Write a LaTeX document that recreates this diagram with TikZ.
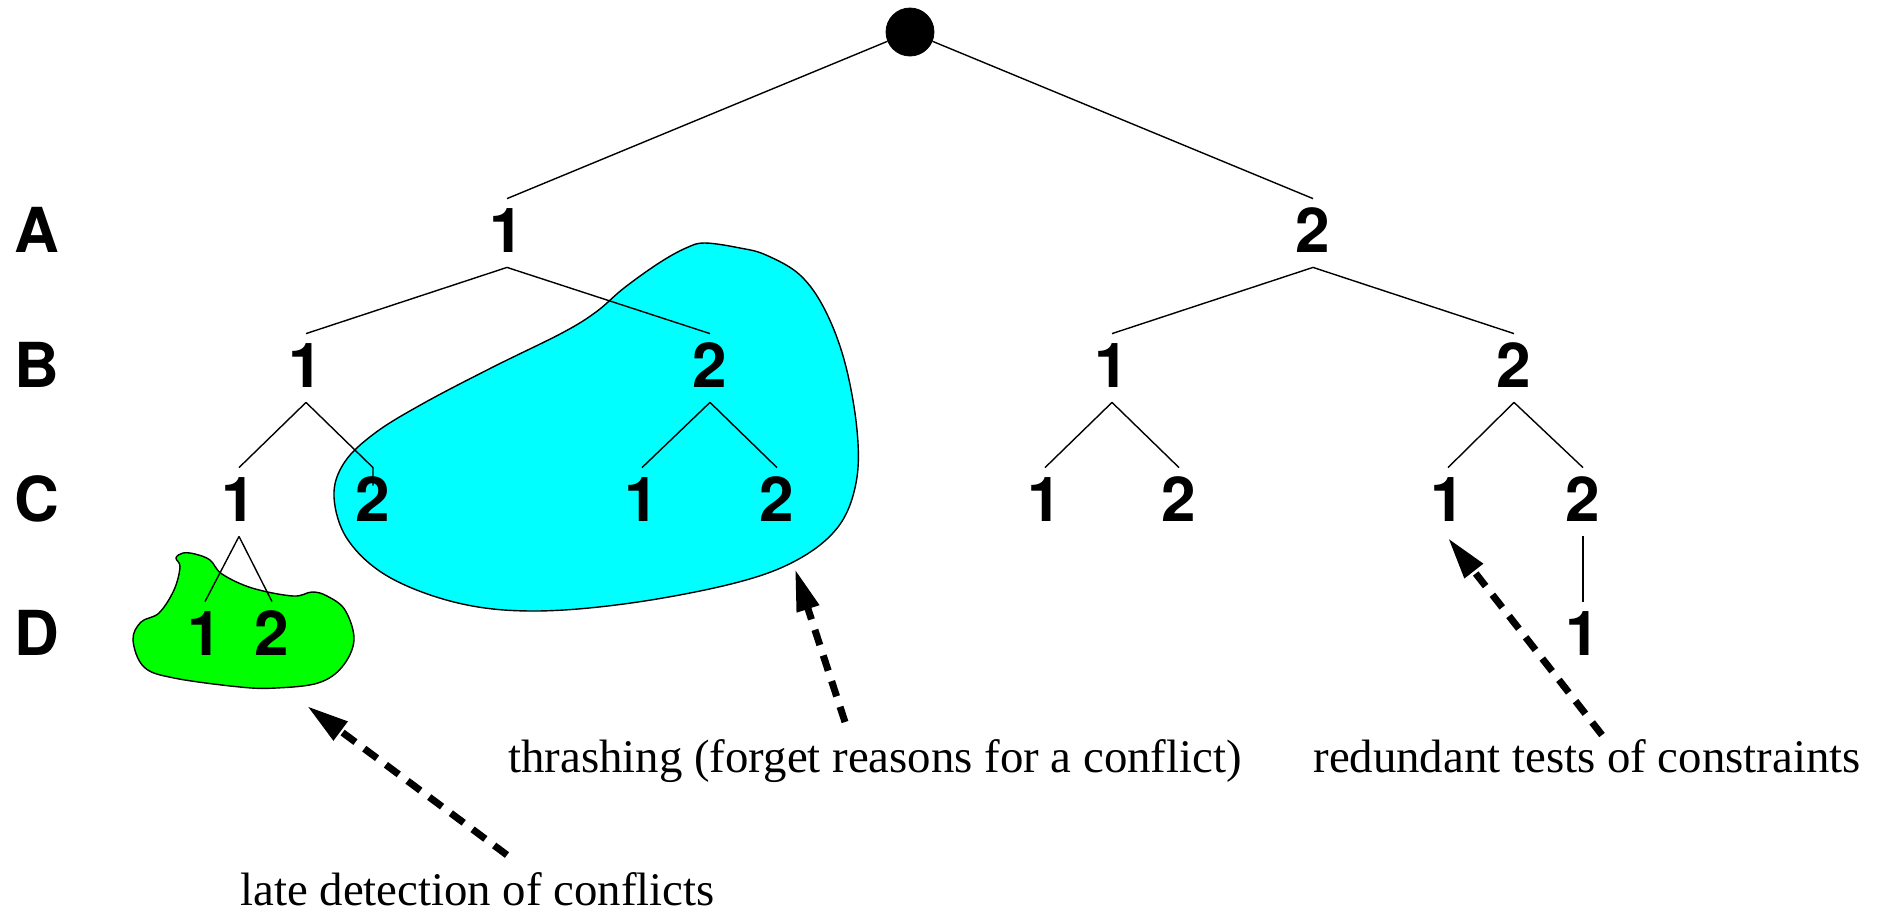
\documentclass[tikz,border=0pt]{standalone}
\usepackage{fontspec}
\setmainfont{Liberation Serif}
\newfontfamily\heros{TeX Gyre Heros}
\usetikzlibrary{arrows.meta}
\definecolor{blobcyan}{RGB}{0,255,255}
\definecolor{blobgreen}{RGB}{0,255,0}
\tikzset{
  digit/.style={font=\heros\bfseries\fontsize{31}{31}\selectfont, inner sep=0pt,
                text height=26.5pt, text depth=7.5pt, anchor=base},
  rowlabel/.style={font=\heros\bfseries\fontsize{31}{31}\selectfont, inner sep=0pt, anchor=base},
  dot/.style={circle, fill=black, draw=black, minimum size=24pt, inner sep=0pt},
  treeline/.style={draw=black, line width=0.7pt},
  blob/.style={draw=black, line width=0.7pt},
  note/.style={font=\fontsize{23.4}{27}\selectfont, inner sep=0pt, anchor=base west},
  callout/.style={draw=black, line width=3.5pt, dash pattern=on 8pt off 5.5pt,
                  -{Triangle[length=21pt,width=11pt]}}
}
\begin{document}
\begin{tikzpicture}[x=0.5pt, y=-0.5pt]
\useasboundingbox (0,0) rectangle (1879,912);
% background regions
\filldraw[blob, fill=blobcyan] plot[smooth cycle, tension=0.6] coordinates {
  (705,243) (740,248) (766,255) (800,275) (825,310) (845,363) (857,430) (856,483)
  (838,527) (797,560) (735,583) (631,603) (534,611) (458,603) (389,577) (348,540)
  (334,497) (344,463) (375,433) (424,403) (493,367) (562,333) (596,312) (624,288)
  (659,263) (686,248)};
\filldraw[blob, fill=blobgreen] plot[smooth cycle, tension=0.6] coordinates {
  (183,553) (195,554) (210,560) (222,574) (252,588) (293,596) (312,592) (327,596)
  (345,610) (354,640) (342,667) (318,683) (276,688) (240,687) (174,678) (144,667)
  (133,640) (141,622) (159,613) (174,590) (180,567) (176,558)};
% row labels
\node[rowlabel] (lA) at (37,252) {A};
\node[rowlabel] (lB) at (37,387) {B};
\node[rowlabel] (lC) at (37,521) {C};
\node[rowlabel] (lD) at (37,655) {D};
% tree nodes
\node[dot] (root) at (910,32) {};
\node[digit] (A1) at (507,252) {1};
\node[digit] (A2) at (1313,252) {2};
\node[digit] (B1) at (306,387) {1};
\node[digit] (B2) at (710,387) {2};
\node[digit] (B3) at (1112,387) {1};
\node[digit] (B4) at (1514,387) {2};
\node[digit] (C1) at (239,521) {1};
\node[digit] (C2) at (373,521) {2};
\node[digit] (C3) at (642,521) {1};
\node[digit] (C4) at (777,521) {2};
\node[digit] (C5) at (1045,521) {1};
\node[digit] (C6) at (1179,521) {2};
\node[digit] (C7) at (1448,521) {1};
\node[digit] (C8) at (1583,521) {2};
\node[digit] (D1) at (205,655) {1};
\node[digit] (D2) at (272,655) {2};
\node[digit] (D3) at (1583,655) {1};
% tree edges
\draw[treeline] (root) -- (A1.north);
\draw[treeline] (root) -- (A2.north);
\draw[treeline] (A1.south) -- (B1.north);
\draw[treeline] (A1.south) -- (B2.north);
\draw[treeline] (A2.south) -- (B3.north);
\draw[treeline] (A2.south) -- (B4.north);
\draw[treeline] (B1.south) -- (C1.north);
\draw[treeline] (B1.south) -- (C2.north) -- ([yshift=-9pt]C2.north);
\draw[treeline] (B2.south) -- (C3.north);
\draw[treeline] (B2.south) -- (C4.north);
\draw[treeline] (B3.south) -- (C5.north);
\draw[treeline] (B3.south) -- (C6.north);
\draw[treeline] (B4.south) -- (C7.north);
\draw[treeline] (B4.south) -- (C8.north);
\draw[treeline] (C1.south) -- (D1.north);
\draw[treeline] (C1.south) -- (D2.north);
\draw[treeline] (C8.south) -- (D3.north);
% annotations
\node[note] (thrash) at (508,772) {thrashing (forget reasons for a conflict)};
\node[note] (redund) at (1313,772) {redundant tests of constraints};
\node[note] (late) at (240,905) {late detection of conflicts};
\coordinate (lateS) at (507,855);
\coordinate (lateE) at (307,706);
\coordinate (thrS) at (845,722);
\coordinate (thrE) at (795,569);
\coordinate (redS) at (1602,735);
\coordinate (redE) at (1448,538);
\draw[callout] (lateS) -- (lateE);
\draw[callout] (thrS) -- (thrE);
\draw[callout] (redS) -- (redE);
\end{tikzpicture}
\end{document}
